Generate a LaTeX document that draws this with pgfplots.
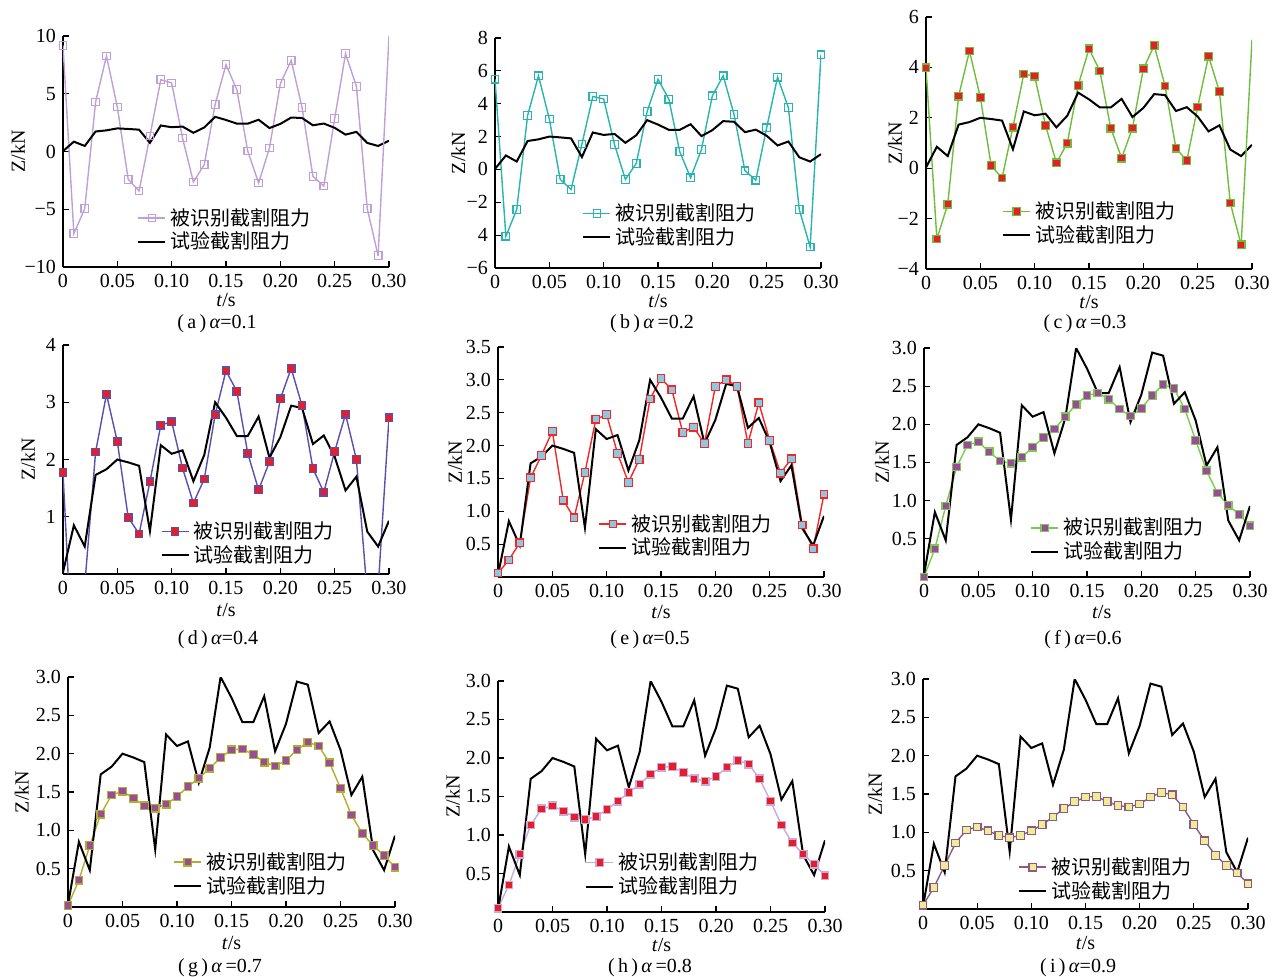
\documentclass[border=0pt]{standalone}
\usepackage{pgfplots}
\pgfplotsset{compat=1.18}
\usepackage{pgfplotstable}
\usepackage{fontspec}
\setmainfont{Liberation Serif}
\newfontfamily\cjk{Noto Sans CJK SC}

\definecolor{lavA}{RGB}{190,160,215}
\definecolor{tealB}{RGB}{40,180,175}
\definecolor{greenC}{RGB}{110,190,60}
\definecolor{redM}{RGB}{230,30,40}
\definecolor{blueD}{RGB}{90,78,175}
\definecolor{redE}{RGB}{240,40,40}
\definecolor{skyE}{RGB}{140,200,225}
\definecolor{greenF}{RGB}{125,200,80}
\definecolor{purpM}{RGB}{155,75,155}
\definecolor{oliveG}{RGB}{175,175,45}
\definecolor{lavH}{RGB}{200,168,225}
\definecolor{mauveI}{RGB}{140,90,130}
\definecolor{yelI}{RGB}{240,235,150}

\pgfplotstableread{
t z
0.00 0.03
0.01 0.85
0.02 0.48
0.03 1.73
0.04 1.83
0.05 2.00
0.06 1.95
0.07 1.89
0.08 0.75
0.09 2.25
0.10 2.10
0.11 2.16
0.12 1.62
0.13 2.08
0.14 3.00
0.15 2.73
0.16 2.41
0.17 2.41
0.18 2.75
0.19 2.03
0.20 2.39
0.21 2.94
0.22 2.90
0.23 2.27
0.24 2.42
0.25 2.05
0.26 1.46
0.27 1.70
0.28 0.74
0.29 0.48
0.30 0.93
}\exptab

\pgfplotsset{
  panel/.style={
    scale only axis, anchor=south west,
    axis lines*=left, tick align=inside,
    xmin=0, xmax=0.3,
    xtick={0,0.05,0.10,0.15,0.20,0.25,0.30},
    xticklabels={0,0.05,0.10,0.15,0.20,0.25,0.30},
    major tick length=3pt,
    tick style={black, line width=0.6pt},
    axis line style={black, line width=0.8pt},
    ticklabel style={font=\fontsize{10}{11}\selectfont},
    xlabel={\textit{t}/s}, ylabel={Z/kN},
    label style={font=\fontsize{10}{12}\selectfont},
    legend style={draw=none, fill=none, anchor=west, inner sep=0pt,
      font=\cjk\fontsize{10}{12}\selectfont, row sep=-2pt},
    legend cell align=left,
    legend image code/.code={\draw[mark repeat=2,mark phase=2,##1] plot coordinates {(0pt,0pt) (6.75pt,0pt) (13.5pt,0pt)};},
  },
  lowpanel/.style={panel, ymin=0,
    xticklabels={0\hspace{11pt},0.05,0.10,0.15,0.20,0.25,0.30}},
  ylab/.style={every axis y label/.style={at={(axis description cs:#1,0.5)},rotate=90,anchor=center}},
  xlab/.style 2 args={every axis x label/.style={at={(axis description cs:#1,#2)},anchor=center}},
  leg/.style 2 args={legend style={at={(#1,#2)}}},
  expline/.style={black, line width=1pt, no marks},
  idopen/.style={color=#1, line width=0.7pt, mark=square, mark size=1.9pt, mark options={draw=#1, fill=white, solid, line width=0.6pt}},
  idfill/.style 2 args={color=#1, line width=0.7pt, mark=square*, mark size=1.9pt, mark options={draw=#1, fill=#2, solid, line width=0.6pt}},
}

\begin{document}
\begin{tikzpicture}
\path[use as bounding box] (0,0) rectangle (636.5pt,-488.5pt);

% (a)
\begin{axis}[panel, at={(31.5pt,-133.5pt)}, width=163pt, height=115.5pt,
  ymin=-10, ymax=10, ytick={-10,-5,0,5,10}, yticklabels={−10,−5,0,5,10},
  ylab=-0.138, xlab={0.5}{-0.145}, leg={0.227}{0.16}]
\addplot[idopen=lavA] table {
0.00 9.19
0.01 -7.11
0.02 -4.95
0.03 4.29
0.04 8.27
0.05 3.85
0.06 -2.41
0.07 -3.42
0.08 1.34
0.09 6.22
0.10 5.93
0.11 1.17
0.12 -2.64
0.13 -1.14
0.14 4.08
0.15 7.52
0.16 5.35
0.17 0.04
0.18 -2.73
0.19 0.30
0.20 5.87
0.21 7.89
0.22 3.80
0.23 -2.15
0.24 -2.99
0.25 2.84
0.26 8.47
0.27 5.64
0.28 -4.95
0.29 -9.02
};
\addlegendentry{被识别截割阻力}
\addplot[expline] table {\exptab};
\addlegendentry{试验截割阻力}
\addplot[lavA, line width=0.7pt, forget plot] coordinates {(0.29,-9.02) (0.30,10.0)};
\end{axis}

% (b)
\begin{axis}[panel, at={(247.5pt,-134pt)}, width=163pt, height=115pt,
  ymin=-6, ymax=8, ytick={-6,-4,-2,0,2,4,6,8}, yticklabels={−6,4,−2,0,2,4,6,8},
  ylab=-0.113, xlab={0.5}{-0.143}, leg={0.267}{0.185}]
\addplot[idopen=tealB] table {
0.00 5.49
0.01 -4.07
0.02 -2.44
0.03 3.28
0.04 5.70
0.05 3.07
0.06 -0.61
0.07 -1.22
0.08 1.55
0.09 4.44
0.10 4.29
0.11 1.51
0.12 -0.61
0.13 0.37
0.14 3.52
0.15 5.49
0.16 4.27
0.17 1.08
0.18 -0.51
0.19 1.22
0.20 4.48
0.21 5.70
0.22 3.34
0.23 -0.08
0.24 -0.65
0.25 2.54
0.26 5.62
0.27 3.76
0.28 -2.44
0.29 -4.72
0.30 6.98
};
\addlegendentry{被识别截割阻力}
\addplot[expline] table {\exptab};
\addlegendentry{试验截割阻力}
\end{axis}

% (c)
\begin{axis}[panel, at={(463pt,-134.5pt)}, width=163pt, height=126pt,
  ymin=-4, ymax=6, ytick={-4,-2,0,2,4,6}, yticklabels={−4,−2,0,2,4,6},
  ylab=-0.095, xlab={0.5}{-0.132}, leg={0.233}{0.181}]
\addplot[idfill={greenC}{redM}] table {
0.00 3.98
0.01 -2.81
0.02 -1.43
0.03 2.86
0.04 4.65
0.05 2.81
0.06 0.10
0.07 -0.39
0.08 1.63
0.09 3.74
0.10 3.65
0.11 1.70
0.12 0.21
0.13 0.99
0.14 3.28
0.15 4.74
0.16 3.86
0.17 1.59
0.18 0.40
0.19 1.59
0.20 3.94
0.21 4.87
0.22 3.26
0.23 0.79
0.24 0.30
0.25 2.43
0.26 4.44
0.27 3.05
0.28 -1.38
0.29 -3.04
};
\addlegendentry{被识别截割阻力}
\addplot[expline] table {\exptab};
\addlegendentry{试验截割阻力}
\addplot[greenC, line width=0.7pt, forget plot] coordinates {(0.29,-3.04) (0.30,5.10)};
\end{axis}

% (d)
\begin{axis}[lowpanel, at={(31.5pt,-287pt)}, width=163pt, height=114.5pt,
  ymax=4, ytick={1,2,3,4}, yticklabels={1,2,3,4},
  ylab=-0.107, xlab={0.5}{-0.157}, leg={0.298}{0.133}]
\addplot[idfill={blueD}{redM}] table {
0.00 1.77
0.01 -2.00
0.02 -0.20
0.03 2.13
0.04 3.14
0.05 2.31
0.06 0.99
0.07 0.70
0.08 1.61
0.09 2.60
0.10 2.66
0.11 1.85
0.12 1.24
0.13 1.66
0.14 2.78
0.15 3.55
0.16 3.19
0.17 2.11
0.18 1.47
0.19 1.96
0.20 3.06
0.21 3.59
0.22 2.94
0.23 1.84
0.24 1.43
0.25 2.14
0.26 2.79
0.27 2.00
0.28 -0.35
0.29 -0.25
0.30 2.73
};
\addlegendentry{被识别截割阻力}
\addplot[expline] table {\exptab};
\addlegendentry{试验截割阻力}
\end{axis}

% (e)
\begin{axis}[lowpanel, at={(249pt,-288.5pt)}, width=163pt, height=115pt,
  ymax=3.5, ytick={0.5,1,1.5,2,2.5,3,3.5}, yticklabels={0.5,1.0,1.5,2.0,2.5,3.0,3.5},
  ylab=-0.132, xlab={0.5}{-0.152}, leg={0.307}{0.178}]
\addplot[idfill={redE}{skyE}] table {
0.00 0.06
0.01 0.26
0.02 0.52
0.03 1.51
0.04 1.85
0.05 2.22
0.06 1.17
0.07 0.90
0.08 1.59
0.09 2.40
0.10 2.47
0.11 1.88
0.12 1.44
0.13 1.79
0.14 2.71
0.15 3.02
0.16 2.85
0.17 2.20
0.18 2.28
0.19 2.03
0.20 2.90
0.21 3.00
0.22 2.90
0.23 2.03
0.24 2.65
0.25 2.08
0.26 1.58
0.27 1.80
0.28 0.79
0.29 0.43
0.30 1.26
};
\addlegendentry{被识别截割阻力}
\addplot[expline] table {\exptab};
\addlegendentry{试验截割阻力}
\end{axis}

% (f)
\begin{axis}[lowpanel, at={(462pt,-288.5pt)}, width=163pt, height=114.5pt,
  ymax=3, ytick={0.5,1,1.5,2,2.5,3}, yticklabels={0.5,1.0,1.5,2.0,2.5,3.0},
  ylab=-0.129, xlab={0.545}{-0.153}, leg={0.325}{0.162}]
\addplot[idfill={greenF}{purpM}] table {
0.00 0.00
0.01 0.37
0.02 0.93
0.03 1.44
0.04 1.73
0.05 1.77
0.06 1.64
0.07 1.52
0.08 1.49
0.09 1.57
0.10 1.70
0.11 1.83
0.12 1.94
0.13 2.10
0.14 2.26
0.15 2.38
0.16 2.41
0.17 2.33
0.18 2.20
0.19 2.11
0.20 2.21
0.21 2.38
0.22 2.52
0.23 2.47
0.24 2.20
0.25 1.79
0.26 1.39
0.27 1.10
0.28 0.94
0.29 0.82
0.30 0.67
};
\addlegendentry{被识别截割阻力}
\addplot[expline] table {\exptab};
\addlegendentry{试验截割阻力}
\end{axis}

% (g)
\begin{axis}[lowpanel, at={(34pt,-453.5pt)}, width=163.5pt, height=115pt,
  ymax=3, ytick={0.5,1,1.5,2,2.5,3}, yticklabels={0.5,1.0,1.5,2.0,2.5,3.0},
  ylab=-0.141, xlab={0.5}{-0.157}, leg={0.321}{0.143}]
\addplot[idfill={oliveG}{purpM}] table {
0.00 0.02
0.01 0.35
0.02 0.80
0.03 1.21
0.04 1.46
0.05 1.51
0.06 1.42
0.07 1.32
0.08 1.29
0.09 1.34
0.10 1.44
0.11 1.57
0.12 1.68
0.13 1.81
0.14 1.95
0.15 2.05
0.16 2.06
0.17 1.99
0.18 1.89
0.19 1.84
0.20 1.91
0.21 2.05
0.22 2.15
0.23 2.10
0.24 1.88
0.25 1.55
0.26 1.20
0.27 0.96
0.28 0.80
0.29 0.67
0.30 0.52
};
\addlegendentry{被识别截割阻力}
\addplot[expline] table {\exptab};
\addlegendentry{试验截割阻力}
\end{axis}

% (h)
\begin{axis}[lowpanel, at={(249pt,-456pt)}, width=163.5pt, height=115.5pt,
  ymax=3, ytick={0.5,1,1.5,2,2.5,3}, yticklabels={0.5,1.0,1.5,2.0,2.5,3.0},
  ylab=-0.138, xlab={0.5}{-0.143}, leg={0.266}{0.162}]
\addplot[idfill={lavH}{redM}] table {
0.00 0.05
0.01 0.35
0.02 0.75
0.03 1.13
0.04 1.34
0.05 1.38
0.06 1.31
0.07 1.23
0.08 1.20
0.09 1.24
0.10 1.33
0.11 1.44
0.12 1.55
0.13 1.66
0.14 1.79
0.15 1.88
0.16 1.89
0.17 1.81
0.18 1.73
0.19 1.70
0.20 1.76
0.21 1.88
0.22 1.97
0.23 1.92
0.24 1.73
0.25 1.44
0.26 1.13
0.27 0.90
0.28 0.75
0.29 0.62
0.30 0.47
};
\addlegendentry{被识别截割阻力}
\addplot[expline] table {\exptab};
\addlegendentry{试验截割阻力}
\end{axis}

% (i)
\begin{axis}[lowpanel, at={(461.5pt,-454.5pt)}, width=162.5pt, height=115pt,
  ymax=3, ytick={0.5,1,1.5,2,2.5,3}, yticklabels={0.5,1.0,1.5,2.0,2.5,3.0},
  ylab=-0.148, xlab={0.5}{-0.148}, leg={0.292}{0.13}]
\addplot[idfill={mauveI}{yelI}] table {
0.00 0.05
0.01 0.28
0.02 0.57
0.03 0.86
0.04 1.03
0.05 1.07
0.06 1.02
0.07 0.96
0.08 0.93
0.09 0.96
0.10 1.02
0.11 1.10
0.12 1.20
0.13 1.31
0.14 1.40
0.15 1.46
0.16 1.47
0.17 1.40
0.18 1.35
0.19 1.33
0.20 1.37
0.21 1.46
0.22 1.52
0.23 1.49
0.24 1.33
0.25 1.10
0.26 0.89
0.27 0.70
0.28 0.57
0.29 0.47
0.30 0.33
};
\addlegendentry{被识别截割阻力}
\addplot[expline] table {\exptab};
\addlegendentry{试验截割阻力}
\end{axis}

% captions
\begin{scope}[every node/.style={font=\fontsize{10}{12}\selectfont, inner sep=0pt}]
\node at (108.5pt,-162pt) {(\,a\,)\,\textit{α}=0.1};
\node at (326pt,-162pt) {(\,b\,)\,\textit{α}\,=0.2};
\node at (542.5pt,-162pt) {(\,c\,)\,\textit{α}\,=0.3};
\node at (109pt,-320pt) {(\,d\,)\,\textit{α}=0.4};
\node at (325pt,-320pt) {(\,e\,)\,\textit{α}=0.5};
\node at (541.5pt,-320pt) {(\,f\,)\,\textit{α}=0.6};
\node at (110pt,-484pt) {(\,g\,)\,\textit{α}\,=0.7};
\node at (325pt,-484pt) {(\,h\,)\,\textit{α}\,=0.8};
\node at (539pt,-484pt) {(\,i\,)\,\textit{α}=0.9};
\end{scope}
\end{tikzpicture}
\end{document}
